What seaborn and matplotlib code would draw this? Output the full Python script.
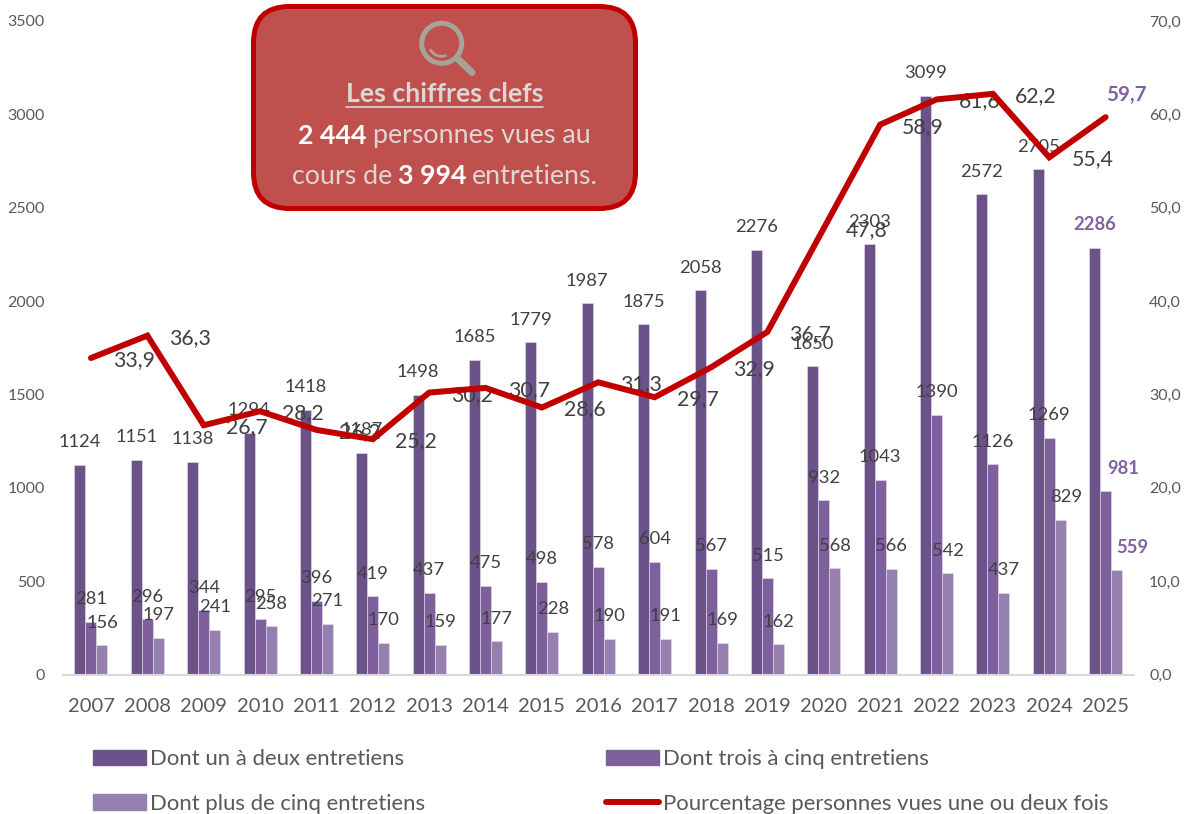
import numpy as np
import pandas as pd
import matplotlib
matplotlib.use("Agg")
import matplotlib.pyplot as plt
import seaborn as sns
from matplotlib.lines import Line2D
from matplotlib.patches import Arc, Circle, FancyBboxPatch, Patch

annees = ["2007", "2008", "2009", "2010", "2011", "2012", "2013", "2014", "2015", "2016",
          "2017", "2018", "2019", "2020", "2021", "2022", "2023", "2024", "2025"]
un_deux = [1124, 1151, 1138, 1294, 1418, 1187, 1498, 1685, 1779, 1987,
           1875, 2058, 2276, 1650, 2303, 3099, 2572, 2705, 2286]
trois_cinq = [281, 296, 344, 295, 396, 419, 437, 475, 498, 578,
              604, 567, 515, 932, 1043, 1390, 1126, 1269, 981]
plus_cinq = [156, 197, 241, 258, 271, 170, 159, 177, 228, 190,
             191, 169, 162, 568, 566, 542, 437, 829, 559]
pourcentage = [33.9, 36.3, 26.7, 28.2, 26.2, 25.2, 30.2, 30.7, 28.6, 31.3,
               29.7, 32.9, 36.7, 47.8, 58.9, 61.6, 62.2, 55.4, 59.7]

noms = ["Dont un à deux entretiens", "Dont trois à cinq entretiens", "Dont plus de cinq entretiens"]
nom_ligne = "Pourcentage personnes vues une ou deux fois"
couleurs = ["#6B5288", "#7E619C", "#9580AF"]
rouge = "#C00000"
violet = "#8064A2"
gris = "#595959"
gris_fonce = "#404040"

sns.set_theme(style="white")
plt.rcParams["font.family"] = ["Lato", "DejaVu Sans"]

df = pd.DataFrame({"annee": annees, noms[0]: un_deux, noms[1]: trois_cinq, noms[2]: plus_cinq})
df = df.melt(id_vars="annee", var_name="type", value_name="valeur")

fig = plt.figure(figsize=(11.92, 8.14), dpi=100)
ax = fig.add_axes([62.8 / 1192, 1 - 674.5 / 814, 1071 / 1192, 653.5 / 814])

sns.barplot(data=df, x="annee", y="valeur", hue="type", hue_order=noms, palette=couleurs,
            width=0.585, gap=0, saturation=1, edgecolor="#E6E0EC", linewidth=0.4,
            legend=False, ax=ax)
ax.set_ylim(0, 3500)
ax.set_xlim(-0.5, len(annees) - 0.5)
ax.set_xlabel("")
ax.set_ylabel("")
ax.set_yticks(range(0, 3501, 500))
ax.tick_params(axis="y", length=0, labelsize=11.5, labelcolor=gris, pad=13)
ax.tick_params(axis="x", length=0, labelsize=14.5, labelcolor=gris, pad=17)
sns.despine(ax=ax, left=True)
ax.spines["bottom"].set_color("#D9D9D9")
ax.spines["bottom"].set_linewidth(1.5)

for c in ax.containers:
    textes = ax.bar_label(c, padding=10.5, fontsize=13.2, color=gris_fonce)
    textes[-1].set_color(violet)
    textes[-1].set_fontweight("bold")
# labels moved by hand in the original
for t in ax.texts:
    if t.get_text() == "981":
        t.xyann = (13, t.xyann[1])
    if t.get_text() == "559":
        t.xyann = (11, t.xyann[1])
    if t.get_text() == "829":
        t.xyann = (4, t.xyann[1])

ax2 = ax.twinx()
pos = np.arange(len(annees))
sns.lineplot(x=pos, y=pourcentage, color=rouge, linewidth=4.3, ax=ax2, zorder=5,
             solid_capstyle="round", solid_joinstyle="miter", errorbar=None)
ax2.set_ylim(0, 70)
ax2.set_yticks(range(0, 71, 10))
ax2.set_yticklabels([f"{v},0" for v in range(0, 71, 10)])
ax2.set_ylabel("")
ax2.tick_params(axis="y", length=0, labelsize=11.5, labelcolor=gris, pad=11)
ax2.grid(False)
for s in ax2.spines.values():
    s.set_visible(False)

for i, v in enumerate(pourcentage):
    txt = f"{v:.1f}".replace(".", ",")
    if i == len(pourcentage) - 1:
        ax2.annotate(txt, (i, v), xytext=(15, 16), textcoords="offset points", ha="center",
                     va="center", fontsize=14.8, fontweight="bold", color=violet, zorder=2)
    else:
        ax2.annotate(txt, (i, v), xytext=(31, -1.5), textcoords="offset points", ha="center",
                     va="center", fontsize=15.3, color=gris_fonce, zorder=2)

handles = [Patch(color=couleurs[0]), Patch(color=couleurs[2]),
           Patch(color=couleurs[1]), Line2D([0], [0], color=rouge, linewidth=4.3, solid_capstyle="round")]
labels = [noms[0], noms[2], noms[1], nom_ligne]
fig.legend(handles, labels, ncol=2, loc="upper left", bbox_to_anchor=(93 / 1192, 1 - 749 / 814),
           frameon=False, fontsize=15.9, labelcolor=gris, handlelength=2.4, handletextpad=0.18,
           columnspacing=8.2, labelspacing=1.12, borderpad=0, borderaxespad=0)

# encadré, dessiné en pixels de l'image
over = fig.add_axes([0, 0, 1, 1], zorder=10)
over.set_xlim(0, 1192)
over.set_ylim(814, 0)
over.axis("off")
over.add_patch(FancyBboxPatch((253.5, 6.5), 382, 202, boxstyle="round,pad=0,rounding_size=36",
                              facecolor="#C0504D", edgecolor=rouge, linewidth=3.6))
loupe = "#A5A498"
over.add_patch(Circle((441.7, 43.3), 20, fill=False, edgecolor=loupe, linewidth=3.6))
over.add_patch(Arc((441.7, 43.3), 26, 26, theta1=68, theta2=153, color=loupe, linewidth=2))
over.plot([458, 472], [59, 72.5], color=loupe, linewidth=5, solid_capstyle="round")

clair = "#DDD6D6"
over.text(444.5, 94.5, "Les chiffres clefs", ha="center", va="center", fontsize=19.2,
          fontweight="bold", color=clair)
over.plot([346, 543], [106.5, 106.5], color=clair, linewidth=1.2)


def ligne_mixte(morceaux, xc, y, taille=19.3):
    renderer = fig.canvas.get_renderer()
    objets = []
    total = 0
    espace = taille * 100 / 72 * 0.22
    for texte, gras in morceaux:
        t = over.text(0, y, texte, ha="left", va="center", fontsize=taille,
                      fontweight="bold" if gras else "normal", color="white" if gras else clair)
        l = t.get_window_extent(renderer).width
        objets.append((t, l))
        total += l
    total += espace * (len(morceaux) - 1)
    x = xc - total / 2
    for t, l in objets:
        t.set_x(x)
        x += l + espace


ligne_mixte([("2 444", True), ("personnes vues au", False)], 444.5, 135.5)
ligne_mixte([("cours de", False), ("3 994", True), ("entretiens.", False)], 445, 176.5)

fig.savefig("out.png", dpi=100)
